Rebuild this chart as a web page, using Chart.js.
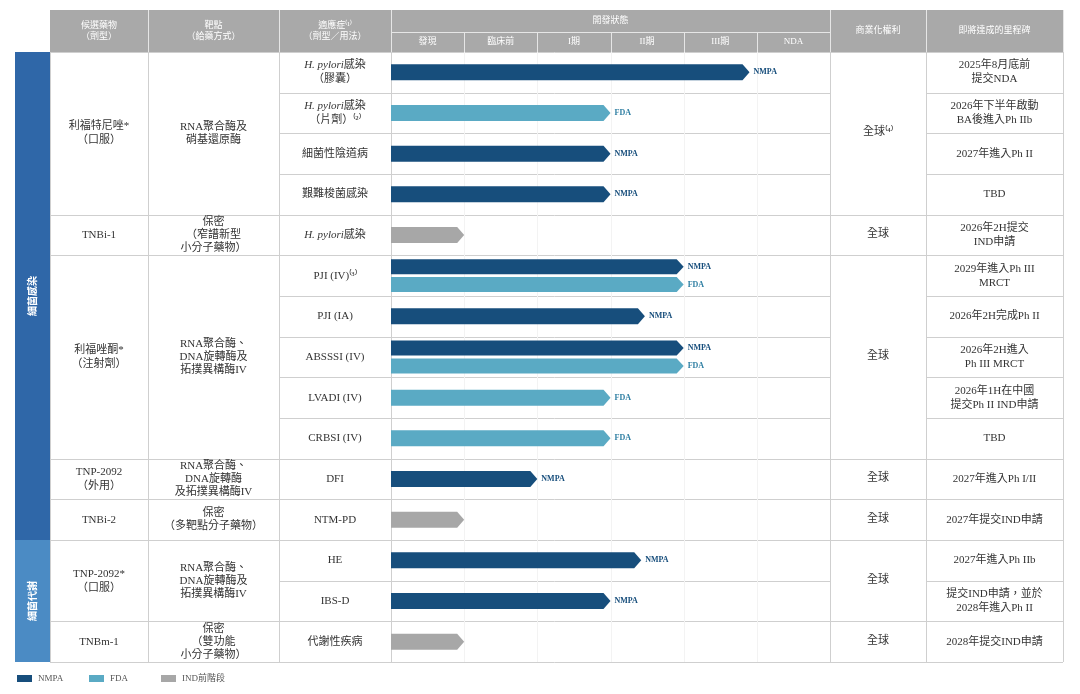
<!DOCTYPE html>
<html><head><meta charset="utf-8">
<script src="https://cdn.jsdelivr.net/npm/chart.js@4"></script>
<style>html,body{margin:0;padding:0;background:#fff}#w{width:1080px;height:694px}</style>
</head><body><div id="w"><canvas id="c" width="1080" height="694"></canvas></div>
<script>
const phases = ["發現","臨床前","I期","II期","III期","NDA"];
const indications = [["H. pylori|感染","（膠囊）"],["H. pylori|感染","（片劑）⁽²⁾"],["細菌性陰道病"],["艱難梭菌感染"],["H. pylori|感染"],["PJI (IV)⁽³⁾"],["PJI (IA)"],["ABSSSI (IV)"],["LVADI (IV)"],["CRBSI (IV)"],["DFI"],["NTM-PD"],["HE"],["IBS-D"],["代謝性疾病"]];
const nmpa = [4.9,null,3,3,null,4,3.47,4,null,null,2,null,3.42,3,null];
const fda  = [null,3,null,null,null,4,null,4,3,3,null,null,null,null,null];
const preIND = [null,null,null,null,1,null,null,null,null,null,null,1,null,null,1];
const milestones = [["2025年8月底前","提交NDA"],["2026年下半年啟動","BA後進入Ph IIb"],["2027年進入Ph II"],["TBD"],["2026年2H提交","IND申請"],["2029年進入Ph III","MRCT"],["2026年2H完成Ph II"],["2026年2H進入","Ph III MRCT"],["2026年1H在中國","提交Ph II IND申請"],["TBD"],["2027年進入Ph I/II"],["2027年提交IND申請"],["2027年進入Ph IIb"],["提交IND申請，並於","2028年進入Ph II"],["2028年提交IND申請"]];
const candidates = [[0,3,["利福特尼唑*","（口服）"]],[4,4,["TNBi-1"]],[5,9,["利福唑酮*","（注射劑）"]],[10,10,["TNP-2092","（外用）"]],[11,11,["TNBi-2"]],[12,13,["TNP-2092*","（口服）"]],[14,14,["TNBm-1"]]];
const targets = [[0,3,["RNA聚合酶及","硝基還原酶"]],[4,4,["保密","（窄譜新型","小分子藥物）"]],[5,9,["RNA聚合酶、","DNA旋轉酶及","拓撲異構酶IV"]],[10,10,["RNA聚合酶、","DNA旋轉酶","及拓撲異構酶IV"]],[11,11,["保密","（多靶點分子藥物）"]],[12,13,["RNA聚合酶、","DNA旋轉酶及","拓撲異構酶IV"]],[14,14,["保密","（雙功能","小分子藥物）"]]];
const rights = [[0,3,"全球⁽⁴⁾"],[4,4,"全球"],[5,9,"全球"],[10,10,"全球"],[11,11,"全球"],[12,13,"全球"],[14,14,"全球"]];
const groups = [[0,11,"細菌感染","#2f67a8"],[12,14,"細菌代謝","#4b8bc4"]];
const legend = [["NMPA","#174e7c"],["FDA","#5aaac4"],["IND前階段","#a7a7a7"]];

const C_N="#174e7c", C_F="#5aaac4", C_G="#a7a7a7";
const SERIF='"Liberation Serif","Noto Sans CJK TC"';
const X=[15,50,148,279,391,830,926,1063], TOP=10, HMID=32, HB=52, BOT=662;
const NR=indications.length, RH=(BOT-HB)/NR;
const rowTop=i=>HB+i*RH;

function pts(arr,other,sign){return arr.map((v,i)=>v==null?null:{x:v,y:i+((other[i]!=null)?sign*0.22:0)}).filter(p=>p);}
const ds=[
 {label:"NMPA",data:pts(nmpa,fda,-1),col:C_N,barThickness:15},
 {label:"FDA",data:pts(fda,nmpa,1),col:C_F,barThickness:15},
 {label:"IND前階段",data:preIND.map((v,i)=>v==null?null:{x:v,y:i}).filter(p=>p),col:C_G,barThickness:16}
].map(d=>Object.assign(d,{backgroundColor:"rgba(0,0,0,0)",borderWidth:0,grouped:false}));
ds.forEach(d=>d.data.forEach(p=>{ if(Number.isInteger(p.y)) p.t=16; }));

function txt(ctx,s,x,y,font,color,align){ctx.font=font;ctx.fillStyle=color;ctx.textAlign=align||"center";ctx.textBaseline="middle";ctx.fillText(s,x,y);}
function lines(ctx,arr,cx,cy,font,color,lh){const n=arr.length;arr.forEach((s,k)=>{const y=cy+(k-(n-1)/2)*lh;
  if(s.includes("|")){const [a,b]=s.split("|");ctx.font="italic 11px "+SERIF;const wa=ctx.measureText(a).width;ctx.font="11px "+SERIF;const wb=ctx.measureText(b).width;const x0=cx-(wa+wb)/2;
    txt(ctx,a,x0,y,"italic 11px "+SERIF,color,"left");txt(ctx,b,x0+wa,y,"11px "+SERIF,color,"left");}
  else txt(ctx,s,cx,y,font,color);});}

const table={id:"table",
 beforeDraw(ch){const c=ch.ctx;c.save();c.fillStyle="#fff";c.fillRect(0,0,1080,694);
  c.fillStyle="#a9a9a9";c.fillRect(X[1],TOP,X[7]-X[1],HB-TOP);
  groups.forEach(g=>{c.fillStyle=g[3];c.fillRect(X[0],rowTop(g[0]),X[1]-X[0],rowTop(g[1]+1)-rowTop(g[0]));});
  c.strokeStyle="#cfcfcf";c.lineWidth=1;
  const hl=(x1,x2,y)=>{c.beginPath();c.moveTo(x1,Math.round(y)+0.5);c.lineTo(x2,Math.round(y)+0.5);c.stroke();};
  const vl=(x,y1,y2)=>{c.beginPath();c.moveTo(Math.round(x)+0.5,y1);c.lineTo(Math.round(x)+0.5,y2);c.stroke();};
  for(let i=0;i<=NR;i++){const y=rowTop(i);hl(X[3],X[5],y);}
  const merged=(spans,x1,x2)=>spans.forEach(s=>{hl(x1,x2,rowTop(s[0]));hl(x1,x2,rowTop(s[1]+1));});
  merged(candidates,X[1],X[2]);merged(targets,X[2],X[3]);merged(rights,X[5],X[6]);
  for(let i=0;i<=NR;i++)hl(X[6],X[7],rowTop(i));
  for(let k=1;k<X.length;k++)vl(X[k],HB,BOT);
  c.strokeStyle="#f3f3f3";const pw=(X[5]-X[4])/6;for(let k=1;k<6;k++)vl(X[4]+k*pw,HB,BOT);
  c.strokeStyle="#e6e6e6";for(let k=2;k<X.length;k++){if(k===5)continue;vl(X[k],TOP,HB);}
  vl(X[5],TOP,HB);hl(X[4],X[5],HMID);for(let k=1;k<6;k++)vl(X[4]+k*pw,HMID,HB);
  c.restore();},
 afterDraw(ch){const c=ch.ctx;c.save();
  const hf="9px "+SERIF, W="#fff";
  lines(c,["候選藥物","（劑型）"],(X[1]+X[2])/2,31,hf,W,11);
  lines(c,["靶點","（給藥方式）"],(X[2]+X[3])/2,31,hf,W,11);
  lines(c,["適應症⁽¹⁾","（劑型／用法）"],(X[3]+X[4])/2,31,hf,W,11);
  txt(c,"開發狀態",(X[4]+X[5])/2,21,hf,W);
  const pw=(X[5]-X[4])/6;phases.forEach((p,k)=>txt(c,p,X[4]+(k+.5)*pw,42,hf,W));
  txt(c,"商業化權利",(X[5]+X[6])/2,31,hf,W);txt(c,"即將達成的里程碑",(X[6]+X[7])/2,31,hf,W);
  const f="11px "+SERIF, T="#333";
  const mid=(a,b)=>(rowTop(a)+rowTop(b+1))/2;
  candidates.forEach(s=>lines(c,s[2],(X[1]+X[2])/2,mid(s[0],s[1]),f,T,14));
  targets.forEach(s=>lines(c,s[2],(X[2]+X[3])/2,mid(s[0],s[1]),f,T,13));
  rights.forEach(s=>txt(c,s[2],(X[5]+X[6])/2,mid(s[0],s[1])-1,f,T));
  indications.forEach((s,i)=>lines(c,s,(X[3]+X[4])/2,mid(i,i),f,T,14));
  milestones.forEach((s,i)=>lines(c,s,(X[6]+X[7])/2,mid(i,i),f,T,14));
  groups.forEach(g=>{const cy=mid(g[0],g[1]);c.save();c.translate((X[0]+X[1])/2,cy);c.rotate(-Math.PI/2);txt(c,g[2],0,0,"bold 10px \"Noto Sans CJK TC\"",W);c.restore();});
  legend.forEach((l,k)=>{const x=17+k*72;c.fillStyle=l[1];c.fillRect(x,675,15,7);txt(c,l[0],x+21,679,"9px "+SERIF,"#555","left");});
  c.restore();},
 afterDatasetsDraw(ch){const c=ch.ctx;c.save();
  ch.data.datasets.forEach((d,di)=>{ch.getDatasetMeta(di).data.forEach((el,j)=>{
   const p=d.data[j];const h=(p.t||d.barThickness);const x0=el.base,x1=el.x,y=ch.scales.y.getPixelForValue(p.y),tip=7;
   c.fillStyle=d.col;c.beginPath();c.moveTo(x0,y-h/2);c.lineTo(x1-tip,y-h/2);c.lineTo(x1,y);c.lineTo(x1-tip,y+h/2);c.lineTo(x0,y+h/2);c.closePath();c.fill();
   if(d.label!=="IND前階段")txt(c,d.label,x1+4,y,"bold 8px "+SERIF,d.col===C_N?C_N:"#2f7fa3","left");
  });});c.restore();}
};
new Chart(document.getElementById("c"),{type:"bar",
 data:{datasets:ds},
 options:{indexAxis:"y",responsive:false,animation:false,devicePixelRatio:1,
  layout:{padding:{left:X[4],right:1080-X[5],top:HB,bottom:694-BOT}},
  plugins:{legend:{display:false},tooltip:{enabled:false}},
  scales:{x:{type:"linear",min:0,max:6,display:false},y:{type:"linear",min:-0.5,max:NR-0.5,reverse:true,offset:false,display:false}}},
 plugins:[table]});
</script></body></html>
